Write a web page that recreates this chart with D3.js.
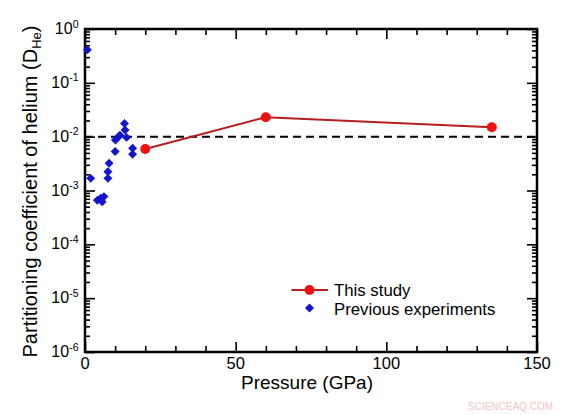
<!DOCTYPE html>
<html>
<head>
<meta charset="utf-8">
<script src="https://cdn.jsdelivr.net/npm/d3@7"></script>
<style>
  html, body { margin: 0; padding: 0; background: #fff; }
  svg { display: block; }
  text { font-family: Arial, "Liberation Sans", sans-serif; fill: #000; }
</style>
</head>
<body>
<svg id="chart" width="569" height="415"></svg>
<script>
// ---- data ----
const thisStudyP = [20, 60, 135];
const thisStudyD = [5.9e-3, 2.3e-2, 1.5e-2];

const prevP = [0.8, 1.9, 4.1, 5.2, 5.7, 6.3, 7.6, 7.6, 8.0, 10.0, 10.1, 11.1, 11.6, 13.1, 13.3, 13.8, 15.8, 15.8];
const prevD = [0.41, 1.68e-3, 6.6e-4, 7.2e-4, 6.2e-4, 7.7e-4, 1.68e-3, 2.23e-3, 3.2e-3, 5.3e-3, 8.7e-3, 1.0e-2, 1.06e-2, 1.76e-2, 1.33e-2, 9.7e-3, 6.1e-3, 4.7e-3];

const refLineD = 1e-2;
const xMajorTicks = [0, 50, 100, 150];
const xTickLabels = ["0", "50", "100", "150"];
const yDecades = [1, 1e-1, 1e-2, 1e-3, 1e-4, 1e-5, 1e-6];
const yExpLabels = ["0", "-1", "-2", "-3", "-4", "-5", "-6"];
const legendLabels = ["This study", "Previous experiments"];

// ---- layout ----
const L = 85, R = 537, T = 29, B = 352;
const svg = d3.select("#chart");
const x = d3.scaleLinear().domain([0, 150]).range([L, R]);
const y = d3.scaleLog().domain([1e-6, 1]).range([B, T]);

const xMinor = d3.range(0, 151, 10).filter(v => !xMajorTicks.includes(v));
const yMinor = y.ticks().filter(v => !yDecades.some(d => Math.abs(v / d - 1) < 1e-6));

function styleAxis(g) {
  g.select(".domain").remove();
  g.selectAll(".tick line").attr("stroke", "#000").attr("stroke-width", 1.6);
  g.selectAll(".tick text").remove();
}

// x axes bottom/top
[[d3.axisBottom, B], [d3.axisTop, T]].forEach(([ax, pos]) => {
  svg.append("g").attr("transform", `translate(0,${pos})`)
    .call(ax(x).tickValues(xMajorTicks).tickSize(-10)).call(styleAxis);
  svg.append("g").attr("transform", `translate(0,${pos})`)
    .call(ax(x).tickValues(xMinor).tickSize(-6)).call(styleAxis);
});
// y axes left/right
[[d3.axisLeft, L], [d3.axisRight, R]].forEach(([ax, pos]) => {
  svg.append("g").attr("transform", `translate(${pos},0)`)
    .call(ax(y).tickValues(yDecades).tickSize(-10)).call(styleAxis);
  svg.append("g").attr("transform", `translate(${pos},0)`)
    .call(ax(y).tickValues(yMinor).tickSize(-5)).call(styleAxis);
});

// frame
svg.append("rect").attr("x", L).attr("y", T).attr("width", R - L).attr("height", B - T)
  .attr("fill", "none").attr("stroke", "#000").attr("stroke-width", 2.5);

// x tick labels
svg.append("g").selectAll("text").data(xMajorTicks).join("text")
  .attr("x", d => x(d)).attr("y", B + 17)
  .attr("text-anchor", "middle").attr("font-size", 16.5)
  .text((d, i) => xTickLabels[i]);

// y tick labels (10^n)
const yl = svg.append("g").selectAll("text").data(yDecades).join("text")
  .attr("x", 78.5).attr("y", d => y(d) + 5)
  .attr("text-anchor", "end").attr("font-size", 16);
yl.append("tspan").text("10");
yl.append("tspan").attr("font-size", 10.5).attr("dy", -6.5).text((d, i) => yExpLabels[i]);

// reference dashed line
svg.append("line").attr("x1", L).attr("x2", R)
  .attr("y1", y(refLineD)).attr("y2", y(refLineD))
  .attr("stroke", "#000").attr("stroke-width", 2).attr("stroke-dasharray", "8,5");

// previous experiments (diamonds)
const diamond = d3.symbol().type(d3.symbolSquare).size(40);
svg.append("g").selectAll("path").data(prevP).join("path")
  .attr("d", diamond)
  .attr("transform", (d, i) => `translate(${x(d)},${y(prevD[i])}) rotate(45)`)
  .attr("fill", "#1414cc");

// this study line + dots
const pts = thisStudyP.map((p, i) => [p, thisStudyD[i]]);
svg.append("path").datum(pts)
  .attr("d", d3.line().x(d => x(d[0])).y(d => y(d[1])))
  .attr("fill", "none").attr("stroke", "#b81e1e").attr("stroke-width", 2);
svg.append("g").selectAll("circle").data(pts).join("circle")
  .attr("cx", d => x(d[0])).attr("cy", d => y(d[1])).attr("r", 5)
  .attr("fill", "#ee1111");

// axis titles
svg.append("text").attr("x", 307).attr("y", 389).attr("text-anchor", "middle")
  .attr("font-size", 19).text("Pressure (GPa)");
const yt = svg.append("text")
  .attr("transform", "translate(36.5,191.5) rotate(-90)")
  .attr("text-anchor", "middle").attr("font-size", 20);
yt.append("tspan").text("Partitioning coefficient of helium (D");
yt.append("tspan").attr("font-size", 13).attr("dy", 4).text("He");
yt.append("tspan").attr("dy", -4).text(")");

// legend
const lg = svg.append("g");
lg.append("line").attr("x1", 291.5).attr("x2", 328).attr("y1", 290).attr("y2", 290)
  .attr("stroke", "#b81e1e").attr("stroke-width", 2);
lg.append("circle").attr("cx", 309.5).attr("cy", 290).attr("r", 5).attr("fill", "#ee1111");
lg.append("path").attr("d", diamond).attr("transform", "translate(309.5,308) rotate(45)").attr("fill", "#1414cc");
lg.selectAll("text").data(legendLabels).join("text")
  .attr("x", 334).attr("y", (d, i) => 295.8 + i * 19)
  .attr("font-size", 16.8).text(d => d);

// watermark
svg.append("text").attr("x", 553).attr("y", 410).attr("text-anchor", "end")
  .attr("font-size", 10).style("fill", "#f2c4c4").text("SCIENCEAQ.COM");
</script>
</body>
</html>
